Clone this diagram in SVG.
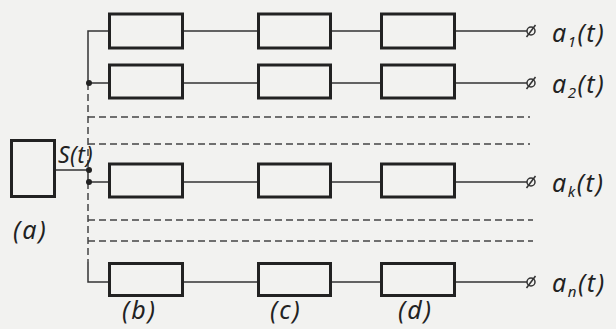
<svg xmlns="http://www.w3.org/2000/svg" width="616" height="329" viewBox="0 0 616 329">
<style>
.box{fill:none;stroke:#222;stroke-width:3}
.ln{fill:none;stroke:#333;stroke-width:1.5}
.dash{fill:none;stroke:#444;stroke-width:1.5;stroke-dasharray:7 4}
.t{font-family:"Noto Sans","DejaVu Sans",sans-serif;font-style:italic;font-size:25px;fill:#222;letter-spacing:1.5px}
.s{font-size:23px;letter-spacing:0.5px}
.lab{font-size:25px;letter-spacing:2px}
.sub{font-size:15px}
.dot{fill:#222}
</style>
<rect width="616" height="329" fill="#f2f2f0"/>
<g id="connectors">
<path class="ln" d="M108 31H88V83H108"/>
<path class="dash" d="M88 83V170"/>
<path class="ln" d="M56 170H88V182H108"/>
<path class="dash" d="M88 182V262"/>
<path class="ln" d="M88 262V282H108"/>
<path class="dash" d="M88 117H530M88 144H530M88 220H533M88 241H533"/>
<path class="ln" d="M184 31H257M332 31H380M456 31H527"/>
<path class="ln" d="M184 83H257M332 83H380M456 83H527"/>
<path class="ln" d="M184 182H257M332 182H380M456 182H527"/>
<path class="ln" d="M184 282H257M332 282H380M456 282H527"/>
<circle class="dot" cx="89" cy="83" r="3"/>
<circle class="dot" cx="89" cy="170" r="3"/>
<circle class="dot" cx="89" cy="182" r="3"/>
</g>
<g id="terminals">
<g class="ln"><circle cx="531" cy="31" r="4"/><path d="M526.5 37L535.5 25"/></g>
<g class="ln"><circle cx="531" cy="83" r="4"/><path d="M526.5 89L535.5 77"/></g>
<g class="ln"><circle cx="531" cy="182" r="4"/><path d="M526.5 188L535.5 176"/></g>
<g class="ln"><circle cx="531" cy="282" r="4"/><path d="M526.5 288L535.5 276"/></g>
</g>
<g id="node-a"><rect class="box" x="11.5" y="140.5" width="43" height="56"/></g>
<g id="node-b1"><rect class="box" x="109.5" y="14" width="73" height="34"/></g>
<g id="node-c1"><rect class="box" x="258.5" y="14" width="72" height="34"/></g>
<g id="node-d1"><rect class="box" x="381.5" y="14" width="73" height="34"/></g>
<g id="node-b2"><rect class="box" x="109.5" y="65" width="73" height="33"/></g>
<g id="node-c2"><rect class="box" x="258.5" y="65" width="72" height="33"/></g>
<g id="node-d2"><rect class="box" x="381.5" y="65" width="73" height="33"/></g>
<g id="node-bk"><rect class="box" x="109.5" y="164" width="73" height="33"/></g>
<g id="node-ck"><rect class="box" x="258.5" y="164" width="72" height="33"/></g>
<g id="node-dk"><rect class="box" x="381.5" y="164" width="73" height="33"/></g>
<g id="node-bn"><rect class="box" x="109.5" y="263.5" width="73" height="32"/></g>
<g id="node-cn"><rect class="box" x="258.5" y="263.5" width="72" height="32"/></g>
<g id="node-dn"><rect class="box" x="381.5" y="263.5" width="73" height="32"/></g>
<g id="labels">
<text class="t s" x="58" y="163">S(t)</text>
<text class="t" x="552" y="42">a<tspan class="sub" dy="5">1</tspan><tspan dy="-5">(t)</tspan></text>
<text class="t" x="552" y="93">a<tspan class="sub" dy="5">2</tspan><tspan dy="-5">(t)</tspan></text>
<text class="t" x="552" y="192">a<tspan class="sub" dy="5">k</tspan><tspan dy="-5">(t)</tspan></text>
<text class="t" x="552" y="292">a<tspan class="sub" dy="5">n</tspan><tspan dy="-5">(t)</tspan></text>
<text class="t lab" x="13" y="239">(a)</text>
<text class="t lab" x="122" y="319">(b)</text>
<text class="t lab" x="270" y="319">(c)</text>
<text class="t lab" x="398" y="319">(d)</text>
</g>
</svg>
